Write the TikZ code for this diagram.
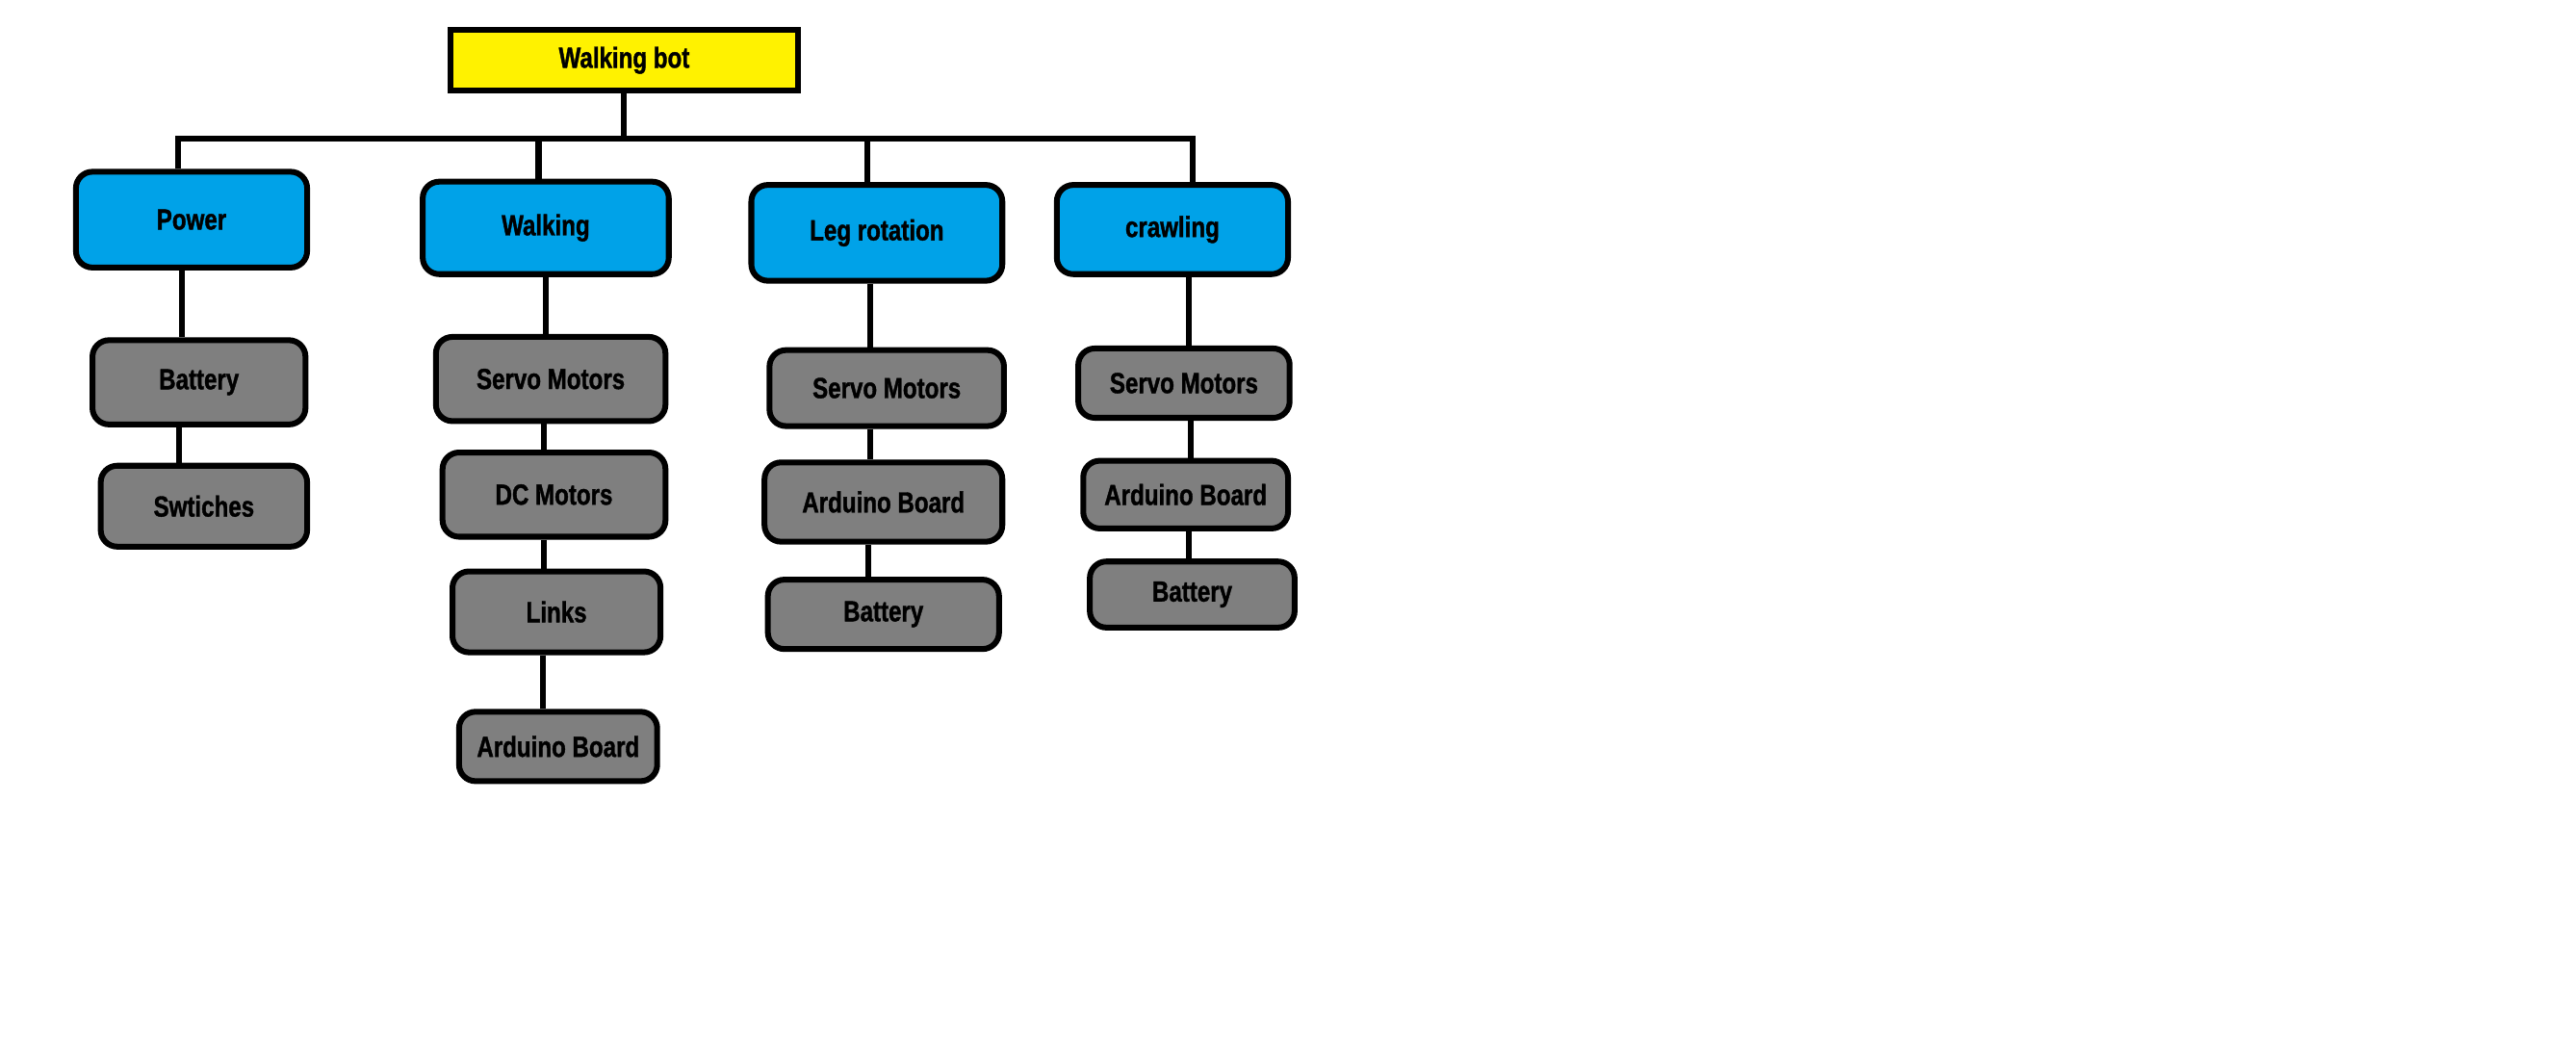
\documentclass[tikz,border=0pt]{standalone}
\usepackage{fontspec}
\newfontfamily\boxfont{Liberation Sans}[FakeStretch=0.8, BoldFeatures={FakeBold=1.2}]
\usepackage{xcolor}
\usepackage{tikz}
\definecolor{topfill}{HTML}{FFF200}
\definecolor{catfill}{HTML}{00A2E8}
\definecolor{partfill}{HTML}{7F7F7F}
\tikzset{
  link/.style={draw=black, line width=3pt},
  box/.style={draw=black, line width=3pt, inner sep=0pt, font=\boxfont\fontsize{15}{17}\selectfont\bfseries},
  topbox/.style={box, fill=topfill},
  catbox/.style={box, fill=catfill, rounded corners=0.3cm},
  partbox/.style={box, fill=partfill, rounded corners=0.3cm},
}
\begin{document}
\begin{tikzpicture}[x=0.03cm, y=-0.03cm]
  \useasboundingbox (0,0) rectangle (1560,641);
  % root
  \node[topbox, minimum width=6.3cm, minimum height=1.11cm] (top) at (378,36.5) {Walking bot};
  \coordinate (bus) at (0,84);
  % categories
  \node[catbox, minimum width=4.2cm, minimum height=1.74cm] (pow) at (116,133) {Power};
  \node[catbox, minimum width=4.47cm, minimum height=1.68cm] (wlk) at (330.5,138) {Walking};
  \node[catbox, minimum width=4.56cm, minimum height=1.74cm] (leg) at (531,141) {Leg rotation};
  \node[catbox, minimum width=4.2cm, minimum height=1.62cm] (crl) at (710,139) {crawling};
  % power parts
  \node[partbox, minimum width=3.87cm, minimum height=1.53cm] (powbat) at (120.5,231.5) {Battery};
  \node[partbox, minimum width=3.75cm, minimum height=1.47cm] (powsw) at (123.5,306.5) {Swtiches};
  % walking parts
  \node[partbox, minimum width=4.17cm, minimum height=1.53cm] (wlkservo) at (333.5,229.5) {Servo Motors};
  \node[partbox, minimum width=4.05cm, minimum height=1.53cm] (wlkdc) at (335.5,299.5) {DC Motors};
  \node[partbox, minimum width=3.78cm, minimum height=1.47cm] (wlklinks) at (337,370.5) {Links};
  \node[partbox, minimum width=3.6cm, minimum height=1.26cm] (wlkard) at (338,452) {Arduino Board};
  % leg rotation parts
  \node[partbox, minimum width=4.26cm, minimum height=1.38cm] (legservo) at (537,235) {Servo Motors};
  \node[partbox, minimum width=4.32cm, minimum height=1.44cm] (legard) at (535,304) {Arduino Board};
  \node[partbox, minimum width=4.2cm, minimum height=1.26cm] (legbat) at (535,372) {Battery};
  % crawling parts
  \node[partbox, minimum width=3.84cm, minimum height=1.26cm] (crlservo) at (717,232) {Servo Motors};
  \node[partbox, minimum width=3.72cm, minimum height=1.23cm] (crlard) at (718,299.5) {Arduino Board};
  \node[partbox, minimum width=3.72cm, minimum height=1.2cm] (crlbat) at (722,360) {Battery};
  % tree lines
  \draw[link] (top.south) -- (top.south |- bus);
  \draw[link] ([xshift=-0.24cm]pow.north) -- ([xshift=-0.24cm]pow.north |- bus) -- ([xshift=0.36cm]crl.north |- bus) -- ([xshift=0.36cm]crl.north);
  \draw[link] ([xshift=-0.13cm]wlk.north) -- ([xshift=-0.13cm]wlk.north |- bus);
  \draw[link] ([xshift=-0.18cm]leg.north) -- ([xshift=-0.18cm]leg.north |- bus);
  \draw[link] ([xshift=-0.18cm]pow.south) -- ([xshift=-0.18cm]pow.south |- powbat.north);
  \draw[link] ([xshift=-0.36cm]powbat.south) -- ([xshift=-0.36cm]powbat.south |- powsw.north);
  \draw[link] (wlk.south) -- (wlk.south |- wlkservo.north);
  \draw[link] ([xshift=-0.13cm]wlkservo.south) -- ([xshift=-0.13cm]wlkservo.south |- wlkdc.north);
  \draw[link] ([xshift=-0.19cm]wlkdc.south) -- ([xshift=-0.19cm]wlkdc.south |- wlklinks.north);
  \draw[link] ([xshift=-0.24cm]wlklinks.south) -- ([xshift=-0.24cm]wlklinks.south |- wlkard.north);
  \draw[link] ([xshift=-0.12cm]leg.south) -- ([xshift=-0.12cm]leg.south |- legservo.north);
  \draw[link] ([xshift=-0.3cm]legservo.south) -- ([xshift=-0.3cm]legservo.south |- legard.north);
  \draw[link] ([xshift=-0.27cm]legard.south) -- ([xshift=-0.27cm]legard.south |- legbat.north);
  \draw[link] ([xshift=0.3cm]crl.south) -- ([xshift=0.3cm]crl.south |- crlservo.north);
  \draw[link] ([xshift=0.12cm]crlservo.south) -- ([xshift=0.12cm]crlservo.south |- crlard.north);
  \draw[link] ([xshift=0.06cm]crlard.south) -- ([xshift=0.06cm]crlard.south |- crlbat.north);
\end{tikzpicture}
\end{document}
